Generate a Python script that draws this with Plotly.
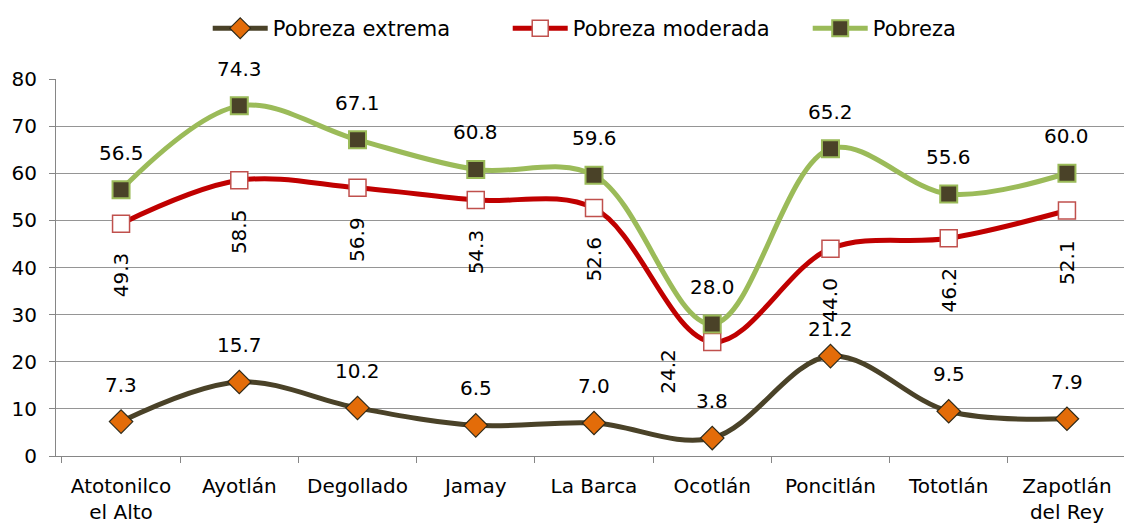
import plotly.graph_objects as go

municipios = ['Atotonilco<br>el Alto', 'Ayotlán', 'Degollado', 'Jamay', 'La Barca',
              'Ocotlán', 'Poncitlán', 'Tototlán', 'Zapotlán<br>del Rey']
pobreza_extrema = [7.3, 15.7, 10.2, 6.5, 7.0, 3.8, 21.2, 9.5, 7.9]
pobreza_moderada = [49.3, 58.5, 56.9, 54.3, 52.6, 24.2, 44.0, 46.2, 52.1]
pobreza = [56.5, 74.3, 67.1, 60.8, 59.6, 28.0, 65.2, 55.6, 60.0]

FONT = 'DejaVu Sans'

fig = go.Figure()

fig.add_trace(go.Scatter(
    x=municipios, y=pobreza_extrema, name='Pobreza extrema',
    mode='lines+markers',
    line=dict(color='#4A4228', width=5, shape='spline', smoothing=1),
    marker=dict(symbol='diamond', size=18, color='#E36C09',
                line=dict(color='#2E2A1A', width=1.2)),
))
fig.add_trace(go.Scatter(
    x=municipios, y=pobreza_moderada, name='Pobreza moderada',
    mode='lines+markers',
    line=dict(color='#C00000', width=5, shape='spline', smoothing=1),
    marker=dict(symbol='square', size=17, color='white',
                line=dict(color='#C0504D', width=1.5)),
))
fig.add_trace(go.Scatter(
    x=municipios, y=pobreza, name='Pobreza',
    mode='lines+markers',
    line=dict(color='#9BBB59', width=5, shape='spline', smoothing=1),
    marker=dict(symbol='square', size=17, color='#4A4228',
                line=dict(color='#9BBB59', width=2)),
))

# etiquetas de datos
annotations = []
for m, v in zip(municipios, pobreza):
    annotations.append(dict(x=m, y=v, text=f'{v:.1f}', showarrow=False,
                            yanchor='bottom', yshift=23))
for m, v in zip(municipios, pobreza_extrema):
    shift = 13 if m == 'Poncitlán' else 23
    annotations.append(dict(x=m, y=v, text=f'{v:.1f}', showarrow=False,
                            yanchor='bottom', yshift=shift))
for m, v in zip(municipios, pobreza_moderada):
    if m == 'Ocotlán':
        annotations.append(dict(x=m, y=v, text=f'{v:.1f}', showarrow=False,
                                textangle=-90, xanchor='right', yanchor='top',
                                xshift=-30, yshift=-5))
    else:
        annotations.append(dict(x=m, y=v, text=f'{v:.1f}', showarrow=False,
                                textangle=-90, yanchor='top', yshift=-27))

fig.update_layout(
    width=1124, height=519,
    margin=dict(l=48, r=0, t=70, b=71),
    paper_bgcolor='white', plot_bgcolor='white',
    font=dict(family=FONT, size=20, color='black'),
    showlegend=True,
    legend=dict(orientation='h', x=0.141, xanchor='left', y=1.135, yanchor='middle',
                font=dict(size=21), itemwidth=55,
                entrywidth=230, entrywidthmode='pixels'),
    annotations=annotations,
)
fig.update_xaxes(
    type='category', tickson='boundaries', ticks='outside', ticklen=6,
    tickcolor='#868686', showline=True, linecolor='#868686', linewidth=1,
    showgrid=False, tickfont=dict(size=20), ticklabelstandoff=12,
)
fig.update_yaxes(
    range=[0, 80], dtick=10, ticks='outside', ticklen=6, tickcolor='#868686',
    showline=True, linecolor='#868686', linewidth=1,
    showgrid=True, gridcolor='#959595', gridwidth=1, zeroline=False,
    tickfont=dict(size=20), ticklabelstandoff=8,
)

fig.write_html('out.html')
